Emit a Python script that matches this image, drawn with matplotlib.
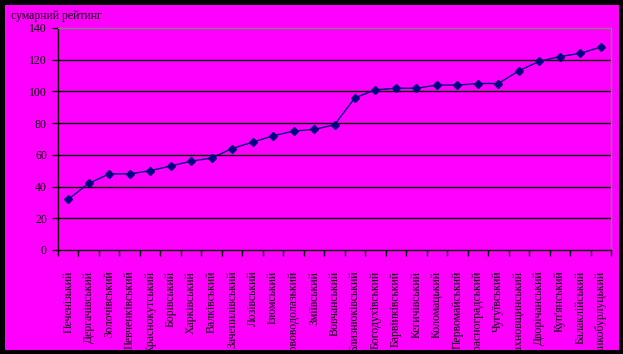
import matplotlib
matplotlib.use("Agg")
import matplotlib.pyplot as plt
import matplotlib.patches as mpatches
import numpy as np

# Districts, ordered as on the x axis
DISTRICTS = [
    "Печенізький", "Дергачівський", "Золочівський", "Шевченківський",
    "Краснокутський", "Борівський", "Харківський", "Валківський",
    "Зачепилівський", "Лозівський", "Ізюмський", "Нововодолазький",
    "Зміївський", "Вовчанський", "Близнюківський", "Богодухівський",
    "Барвінківський", "Кегичівський", "Коломацький", "Первомайський",
    "Красноградський", "Чугуївський", "Сахновщинський", "Дворічанський",
    "Куп'янський", "Балаклійський", "Великобурлуцький",
]

# Summary rating
RATING = [32, 42, 48, 48, 50, 53, 56, 58, 64, 68, 72, 75, 76, 79,
          96, 101, 102, 102, 104, 104, 105, 105, 113, 119, 122, 124, 128]

Y_TICKS = [0, 20, 40, 60, 80, 100, 120, 140]

MAGENTA = "#ff00ff"
FONT = "Liberation Serif"


def main():
    fig = plt.figure(figsize=(6.23, 3.54), dpi=100, facecolor="black")
    # magenta chart area inside the black frame
    fig.patches.append(mpatches.Rectangle(
        (5 / 623, 4 / 354), 614 / 623, 345 / 354,
        transform=fig.transFigure, facecolor=MAGENTA, edgecolor="none", zorder=-10))
    # bottom strip of the frame covers the ends of long labels
    fig.patches.append(mpatches.Rectangle(
        (0, 0), 1, 4 / 354, transform=fig.transFigure,
        facecolor="black", edgecolor="none", zorder=20))

    ax = fig.add_axes([58 / 623, 1 - 250 / 354, 553 / 623, 222 / 354])
    ax.set_zorder(5)
    ax.set_facecolor(MAGENTA)

    x = np.arange(len(DISTRICTS))
    ax.plot(x, RATING, color="#000080", linewidth=1, marker="D",
            markersize=4, markerfacecolor="#000080", markeredgecolor="#000080",
            zorder=5, clip_on=False)

    ax.set_xlim(-0.5, len(DISTRICTS) - 0.5)
    ax.set_ylim(0, 140)

    # horizontal grid
    for v in Y_TICKS[1:-1]:
        ax.axhline(v, color="black", linewidth=1, zorder=1)

    for side in ["top", "right"]:
        ax.spines[side].set_color("#808080")
        ax.spines[side].set_linewidth(1)
    for side in ["left", "bottom"]:
        ax.spines[side].set_color("black")
        ax.spines[side].set_linewidth(1)

    ax.set_yticks(Y_TICKS)
    ax.set_yticklabels([str(v) for v in Y_TICKS], fontname=FONT, fontsize=8.5)
    ax.tick_params(axis="y", length=4, width=1, pad=4, colors="black")

    # ticks at category boundaries, labels at centres
    ax.set_xticks(np.arange(len(DISTRICTS) + 1) - 0.5)
    ax.set_xticklabels([])
    ax.set_xticks(x, minor=True)
    ax.set_xticklabels(DISTRICTS, minor=True, rotation=90, fontname=FONT,
                       fontsize=8.5, va="top", ha="center")
    ax.tick_params(axis="x", which="major", length=4, width=1)
    ax.tick_params(axis="x", which="minor", length=0, pad=15)

    fig.text(11 / 623, 1 - 16 / 354, "сумарний рейтинг", fontname=FONT,
             fontsize=8.5, va="center", ha="left")

    fig.savefig("out.png", dpi=100, facecolor="black")
    plt.close(fig)


if __name__ == "__main__":
    main()
